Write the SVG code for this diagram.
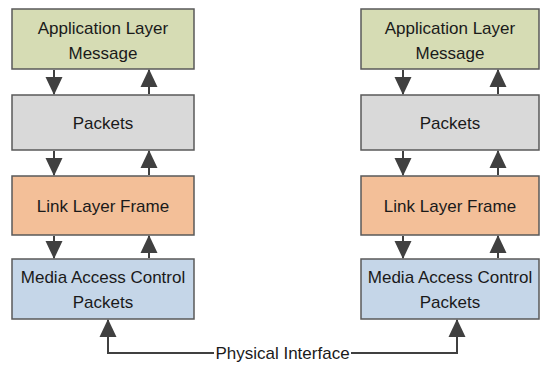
<svg xmlns="http://www.w3.org/2000/svg" width="540" height="366" viewBox="0 0 540 366">
<style>
.box{stroke:#595959;stroke-width:1.5}
.app{fill:#D6DCB4}
.pkt{fill:#D9D9D9}
.lnk{fill:#F3BF98}
.mac{fill:#C5D6E8}
.t{font-family:"Liberation Sans",Arial,sans-serif;font-size:17px;fill:#1a1a1a;text-anchor:middle}
.c{stroke:#404040;stroke-width:2;fill:none}
</style>
<defs>
<marker id="ah" markerUnits="userSpaceOnUse" markerWidth="18" markerHeight="18" viewBox="0 0 18 18" refX="17" refY="9" orient="auto">
<path d="M0,0.5 L18,9 L0,17.5 Z" fill="#404040"/>
</marker>
</defs>
<rect width="540" height="366" fill="#fff"/>
<g id="left-app"><rect class="box app" x="12" y="9" width="182" height="60"/><text class="t" x="103" y="34">Application Layer</text><text class="t" x="103" y="59">Message</text></g>
<g id="left-packets"><rect class="box pkt" x="12" y="95" width="182" height="55"/><text class="t" x="103" y="129">Packets</text></g>
<g id="left-link"><rect class="box lnk" x="12" y="176" width="182" height="59"/><text class="t" x="103" y="212">Link Layer Frame</text></g>
<g id="left-mac"><rect class="box mac" x="12" y="259" width="182" height="60"/><text class="t" x="103" y="283">Media Access Control</text><text class="t" x="103" y="308">Packets</text></g>
<g id="right-app"><rect class="box app" x="361" y="9" width="178" height="60"/><text class="t" x="450" y="34">Application Layer</text><text class="t" x="450" y="59">Message</text></g>
<g id="right-packets"><rect class="box pkt" x="361" y="95" width="178" height="55"/><text class="t" x="450" y="129">Packets</text></g>
<g id="right-link"><rect class="box lnk" x="361" y="176" width="178" height="59"/><text class="t" x="450" y="212">Link Layer Frame</text></g>
<g id="right-mac"><rect class="box mac" x="361" y="259" width="178" height="60"/><text class="t" x="450" y="283">Media Access Control</text><text class="t" x="450" y="308">Packets</text></g>
<g id="connectors">
<line class="c" x1="54" y1="70" x2="54" y2="94" marker-end="url(#ah)"/>
<line class="c" x1="54" y1="151" x2="54" y2="175" marker-end="url(#ah)"/>
<line class="c" x1="54" y1="236" x2="54" y2="258" marker-end="url(#ah)"/>
<line class="c" x1="149" y1="94" x2="149" y2="70" marker-end="url(#ah)"/>
<line class="c" x1="149" y1="175" x2="149" y2="151" marker-end="url(#ah)"/>
<line class="c" x1="149" y1="258" x2="149" y2="236" marker-end="url(#ah)"/>
<line class="c" x1="403" y1="70" x2="403" y2="94" marker-end="url(#ah)"/>
<line class="c" x1="403" y1="151" x2="403" y2="175" marker-end="url(#ah)"/>
<line class="c" x1="403" y1="236" x2="403" y2="258" marker-end="url(#ah)"/>
<line class="c" x1="498" y1="94" x2="498" y2="70" marker-end="url(#ah)"/>
<line class="c" x1="498" y1="175" x2="498" y2="151" marker-end="url(#ah)"/>
<line class="c" x1="498" y1="258" x2="498" y2="236" marker-end="url(#ah)"/>
<polyline class="c" points="214,353 108,353 108,320" marker-end="url(#ah)"/>
<polyline class="c" points="351,353 457,353 457,320" marker-end="url(#ah)"/>
<text class="t" x="282.5" y="359">Physical Interface</text>
</g>
</svg>
